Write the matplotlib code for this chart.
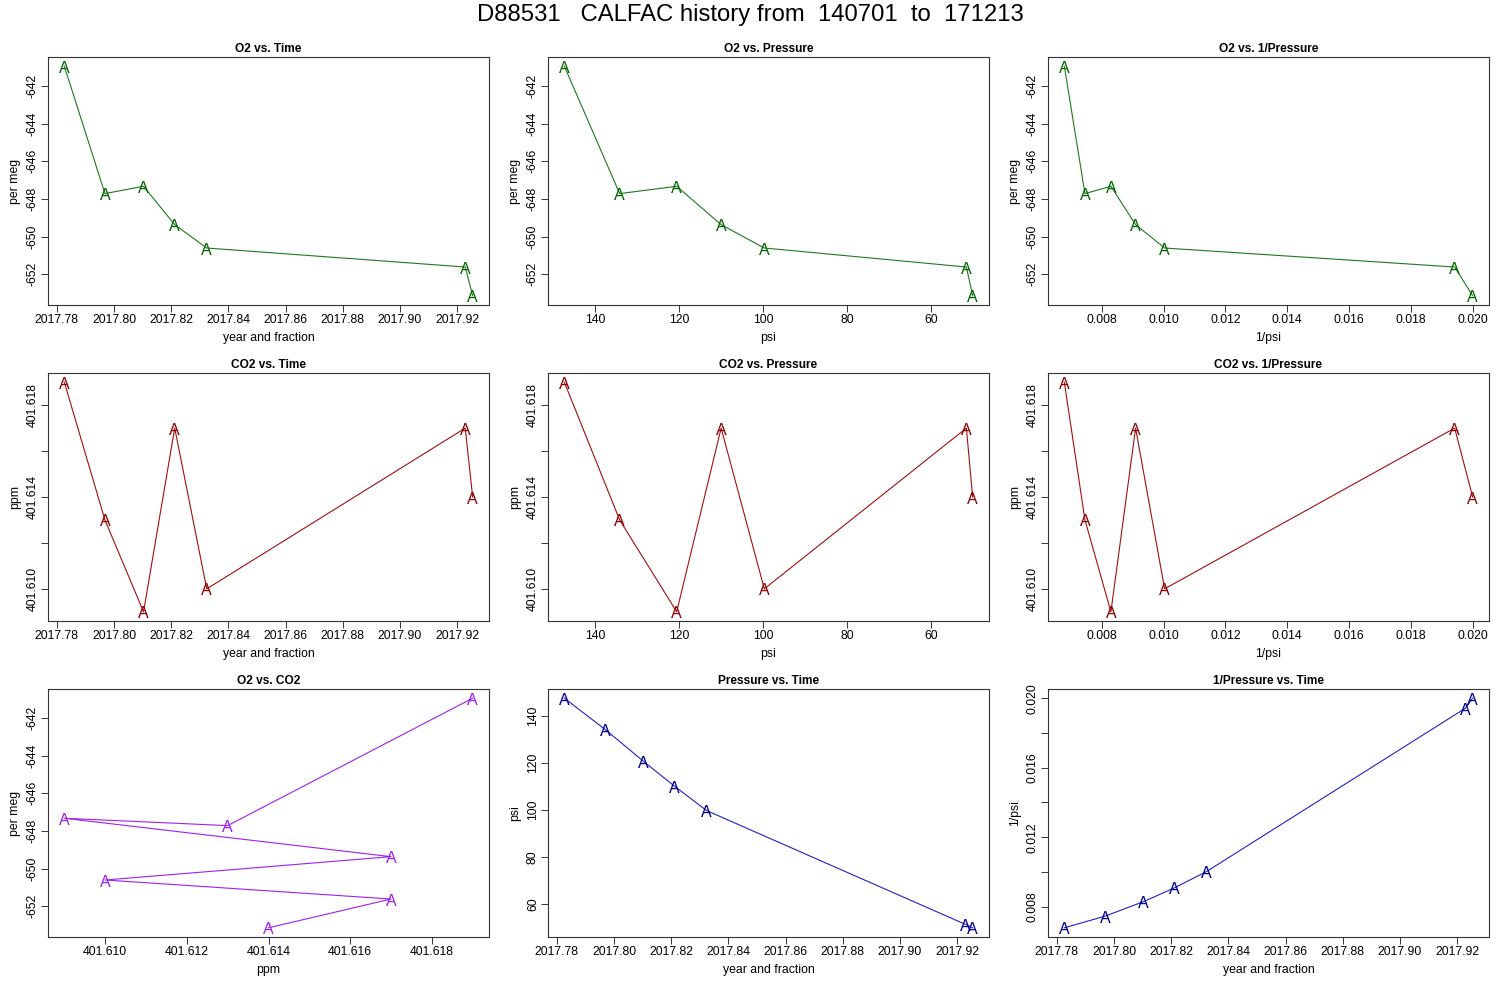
import numpy as np
import matplotlib
matplotlib.use("Agg")
import matplotlib.pyplot as plt
from matplotlib.ticker import MultipleLocator, FuncFormatter
from matplotlib.transforms import offset_copy

plt.rcParams['font.family'] = ['Liberation Sans', 'DejaVu Sans']

# sample values
time = [2017.7826, 2017.7968, 2017.8103, 2017.8212, 2017.8324, 2017.9228, 2017.9254]
o2 = [-640.95, -647.72, -647.33, -649.37, -650.61, -651.62, -653.15]
co2 = [401.619, 401.613, 401.609, 401.617, 401.610, 401.617, 401.614]
pressure = [147.4, 134.2, 120.6, 110.0, 99.7, 51.5, 50.0]
inv_p = [1.0 / p for p in pressure]

title = "D88531   CALFAC history from  140701  to  171213"

GREEN = ('#006400', '#1e7a1e')
RED = ('#8B0000', '#a01010')
PURPLE = ('#A020F0', '#A020F0')
BLUE = ('#00008B', '#2222c4')


def fmt(step, decimals, every=1, base=0.0):
    def f(v, pos):
        k = int(round((v - base) / step))
        if k % every:
            return ''
        return f"{v:.{decimals}f}"
    return FuncFormatter(f)


# axis tick setups: (step, decimals, label every n-th, base)
TIME_AX = (0.02, 2, 1, 2017.78)
O2_AX = (2, 0, 1, -652)
CO2_AX = (0.002, 3, 2, 401.610)
P_AX = (20, 0, 1, 60)
IP_X = (0.002, 3, 1, 0.008)
IP_Y = (0.002, 3, 2, 0.008)
CO2_X = (0.002, 3, 1, 401.610)

panels = [
    (0, 0, time, o2, "O2 vs. Time", "year and fraction", "per meg", GREEN, False, TIME_AX, O2_AX),
    (0, 1, pressure, o2, "O2 vs. Pressure", "psi", "per meg", GREEN, True, P_AX, O2_AX),
    (0, 2, inv_p, o2, "O2 vs. 1/Pressure", "1/psi", "per meg", GREEN, False, IP_X, O2_AX),
    (1, 0, time, co2, "CO2 vs. Time", "year and fraction", "ppm", RED, False, TIME_AX, CO2_AX),
    (1, 1, pressure, co2, "CO2 vs. Pressure", "psi", "ppm", RED, True, P_AX, CO2_AX),
    (1, 2, inv_p, co2, "CO2 vs. 1/Pressure", "1/psi", "ppm", RED, False, IP_X, CO2_AX),
    (2, 0, co2, o2, "O2 vs. CO2", "ppm", "per meg", PURPLE, False, CO2_X, O2_AX),
    (2, 1, time, pressure, "Pressure vs. Time", "year and fraction", "psi", BLUE, False, TIME_AX, P_AX),
    (2, 2, time, inv_p, "1/Pressure vs. Time", "year and fraction", "1/psi", BLUE, False, TIME_AX, IP_Y),
]

W, H = 1500, 1000
col_x = [48, 548, 1048]
row_top = [57, 373, 689]
bw, bh = 441, 248

fig = plt.figure(figsize=(15, 10), dpi=100)
fig.text(0.5, 1 - 15 / H, title, ha='center', va='center', fontsize=17.2)

for r, c, xs, ys, ttl, xl, yl, (ca, cl), inv, xax, yax in panels:
    ax = fig.add_axes([col_x[c] / W, 1 - (row_top[r] + bh) / H, bw / W, bh / H])
    ax.plot(xs, ys, color=cl, lw=0.8)
    tr = offset_copy(ax.transData, fig=fig, y=-2, units='dots')
    for x, y in zip(xs, ys):
        ax.text(x, y, "A", color=ca, fontsize=11.5, ha='center', va='center', transform=tr)
    ax.margins(x=0.04, y=0.04)
    if inv:
        ax.invert_xaxis()
    ax.xaxis.set_major_locator(MultipleLocator(xax[0]))
    ax.xaxis.set_major_formatter(fmt(xax[0], xax[1], xax[2], xax[3]))
    ax.yaxis.set_major_locator(MultipleLocator(yax[0]))
    ax.yaxis.set_major_formatter(fmt(yax[0], yax[1], yax[2], yax[3]))
    ax.tick_params(length=5, width=0.7, pad=1.5, labelsize=8.8, color='#333333')
    for lbl in ax.get_yticklabels():
        lbl.set_rotation(90)
        lbl.set_va('center')
    for s in ax.spines.values():
        s.set_linewidth(0.8)
        s.set_color('#333333')
    ax.set_title(ttl, fontsize=8.6, fontweight='bold', pad=3.5)
    ax.set_xlabel(xl, fontsize=8.8, labelpad=4.5)
    ax.set_ylabel(yl, fontsize=8.8, labelpad=4)

fig.savefig("out.png", dpi=100)
